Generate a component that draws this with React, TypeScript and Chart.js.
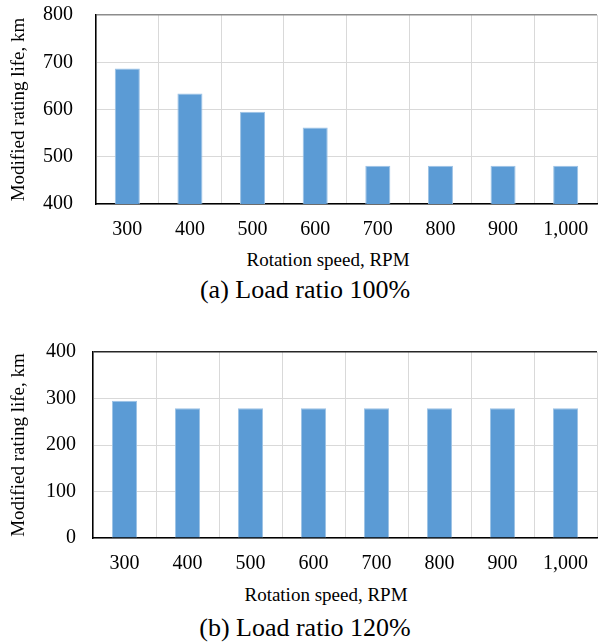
import React, { useEffect, useRef } from "react";
import { Chart, registerables } from "chart.js";

Chart.register(...registerables);

const speeds = ["300", "400", "500", "600", "700", "800", "900", "1,000"];
const lifeLoad100 = [687, 634, 595, 562, 481, 481, 481, 481];
const lifeLoad120 = [295, 279, 279, 279, 279, 279, 279, 279];
const rangeA = [400, 800];
const rangeB = [0, 400];
const yStep = 100;
const yTitle = "Modified rating life, km";
const xTitle = "Rotation speed, RPM";
const captionA = "(a) Load ratio 100%";
const captionB = "(b) Load ratio 120%";

const FONT = "'Liberation Serif', 'Times New Roman', serif";

type PanelProps = {
  values: number[];
  range: number[];
  topColor: string;
  padTop: number;
  yWidth: number;
  yPad: number;
  height: number;
};

function Panel({ values, range, topColor, padTop, yWidth, yPad, height }: PanelProps) {
  const ref = useRef<HTMLCanvasElement | null>(null);
  useEffect(() => {
    if (!ref.current) return;
    const chart = new Chart(ref.current, {
      type: "bar",
      data: {
        labels: speeds,
        datasets: [
          {
            data: values,
            backgroundColor: "#5B9BD5",
            borderColor: "#9CC2E5",
            borderWidth: 1,
            barPercentage: 0.4,
            categoryPercentage: 1,
          },
        ],
      },
      options: {
        animation: false,
        responsive: false,
        maintainAspectRatio: false,
        events: [],
        layout: { padding: { top: padTop, bottom: 0, left: 0, right: 1 } },
        plugins: { legend: { display: false }, tooltip: { enabled: false } },
        scales: {
          x: {
            grid: { color: "#D9D9D9", lineWidth: 1, drawTicks: false, offset: true },
            border: { color: "#000", width: 1.5 },
            ticks: { color: "#000", padding: 14, font: { family: FONT, size: 20 }, maxRotation: 0 },
            afterFit: (s: any) => {
              s.height = 41;
              s.paddingLeft = 0;
              s.paddingRight = 0;
            },
          },
          y: {
            min: range[0],
            max: range[1],
            grid: {
              color: (ctx: any) => (ctx.tick && ctx.tick.value === range[1] ? topColor : "#D9D9D9"),
              lineWidth: (ctx: any) => (ctx.tick && ctx.tick.value === range[1] ? 1.5 : 1),
              drawTicks: false,
            },
            border: { color: "#000", width: 1.5 },
            ticks: { stepSize: yStep, color: "#000", padding: yPad, font: { family: FONT, size: 20 } },
            title: {
              display: true,
              text: yTitle,
              color: "#000",
              font: { family: FONT, size: 19 },
              padding: { top: 8, bottom: 0 },
            },
            afterFit: (s: any) => {
              s.width = yWidth;
              s.paddingTop = 0;
              s.paddingBottom = 0;
            },
          },
        },
      },
    });
    return () => chart.destroy();
  }, []);
  return <canvas ref={ref} width={598} height={height} style={{ display: "block", width: 598, height }} />;
}

const textStyle = (size: number): React.CSSProperties => ({
  position: "absolute",
  fontFamily: FONT,
  fontSize: size,
  lineHeight: `${size}px`,
  color: "#000",
  whiteSpace: "nowrap",
  transform: "translateX(-50%)",
});

export default function App() {
  return (
    <div style={{ position: "fixed", left: 0, top: 0, width: 598, height: 644, background: "#fff", overflow: "hidden" }}>
      <div style={{ position: "absolute", left: 0, top: 0 }}>
        <Panel values={lifeLoad100} range={rangeA} topColor="#8C8C8C" padTop={15} yWidth={96} yPad={23} height={245} />
      </div>
      <div style={{ ...textStyle(19), left: 328, top: 250 }}>{xTitle}</div>
      <div style={{ ...textStyle(26), left: 305, top: 277 }}>{captionA}</div>
      <div style={{ position: "absolute", left: 0, top: 330 }}>
        <Panel values={lifeLoad120} range={rangeB} topColor="#262626" padTop={22} yWidth={93} yPad={17} height={249} />
      </div>
      <div style={{ ...textStyle(19), left: 326, top: 585 }}>{xTitle}</div>
      <div style={{ ...textStyle(26), left: 305, top: 615 }}>{captionB}</div>
    </div>
  );
}
